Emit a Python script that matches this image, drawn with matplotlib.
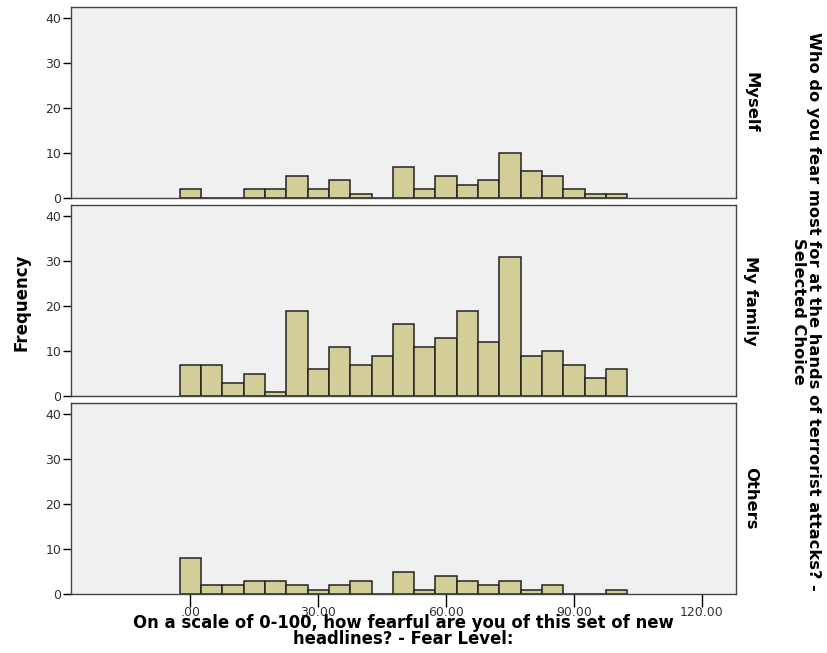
import numpy as np
import matplotlib
matplotlib.use("Agg")
import matplotlib.pyplot as plt

plt.rcParams['font.family'] = ['DejaVu Sans']

# bin centres (width 5) and counts per panel
bin_centers = [0, 5, 10, 15, 20, 25, 30, 35, 40, 45, 50,
               55, 60, 65, 70, 75, 80, 85, 90, 95, 100]
myself = [2, 0, 0, 2, 2, 5, 2, 4, 1, 0, 7, 2, 5, 3, 4, 10, 6, 5, 2, 1, 1]
my_family = [7, 7, 3, 5, 1, 19, 6, 11, 7, 9, 16, 11, 13, 19, 12, 31, 9, 10, 7, 4, 6]
others = [8, 2, 2, 3, 3, 2, 1, 2, 3, 0, 5, 1, 4, 3, 2, 3, 1, 2, 0, 0, 1]
panel_names = ['Myself', 'My family', 'Others']
x_ticks = [0, 30, 60, 90, 120]
x_ticklabels = ['.00', '30.00', '60.00', '90.00', '120.00']
y_ticks = [0, 10, 20, 30, 40]

bar_color = '#d3ce97'
bg_color = '#f0f0f0'
W, H = 827, 653

fig = plt.figure(figsize=(W / 100, H / 100), dpi=100)

left, right = 71 / W, 736 / W
tops = [7, 205, 403]
ph = 191

for i, (name, counts) in enumerate(zip(panel_names, [myself, my_family, others])):
    ax = fig.add_axes([left, 1 - (tops[i] + ph) / H, right - left, ph / H])
    ax.set_facecolor(bg_color)
    ax.bar(bin_centers, counts, width=5, color=bar_color,
           edgecolor='#222222', linewidth=1.1, zorder=2)
    ax.set_xlim(-28, 128)
    ax.set_ylim(0, 42.5)
    ax.set_yticks(y_ticks)
    ax.tick_params(axis='y', direction='out', length=6, width=1,
                   labelsize=9, labelcolor='#333333', pad=1)
    if i < 2:
        ax.set_xticks([])
    else:
        ax.set_xticks(x_ticks)
        ax.set_xticklabels(x_ticklabels)
        ax.tick_params(axis='x', direction='out', length=9, width=1,
                       labelsize=9, labelcolor='#333333', pad=0)
    for s in ax.spines.values():
        s.set_color('#444444')
        s.set_linewidth(1.0)
    ax.text(1.022, 0.5, name, transform=ax.transAxes, rotation=-90,
            ha='center', va='center', fontsize=11.8, fontweight='bold')

fig.text(22 / W, 1 - 302 / H, 'Frequency', rotation=90, ha='center',
         va='center', fontsize=12, fontweight='bold')
fig.text(403.5 / W, 1 - 631 / H,
         'On a scale of 0-100, how fearful are you of this set of new\nheadlines? - Fear Level:',
         ha='center', va='center', fontsize=11.9, fontweight='bold',
         linespacing=0.92)
fig.text(806 / W, 1 - 311 / H,
         'Who do you fear most for at the hands of terrorist attacks? -\nSelected Choice',
         rotation=-90, ha='center', va='center', fontsize=11.7,
         fontweight='bold', multialignment='center', linespacing=0.92)

fig.savefig('out.png', dpi=100)
